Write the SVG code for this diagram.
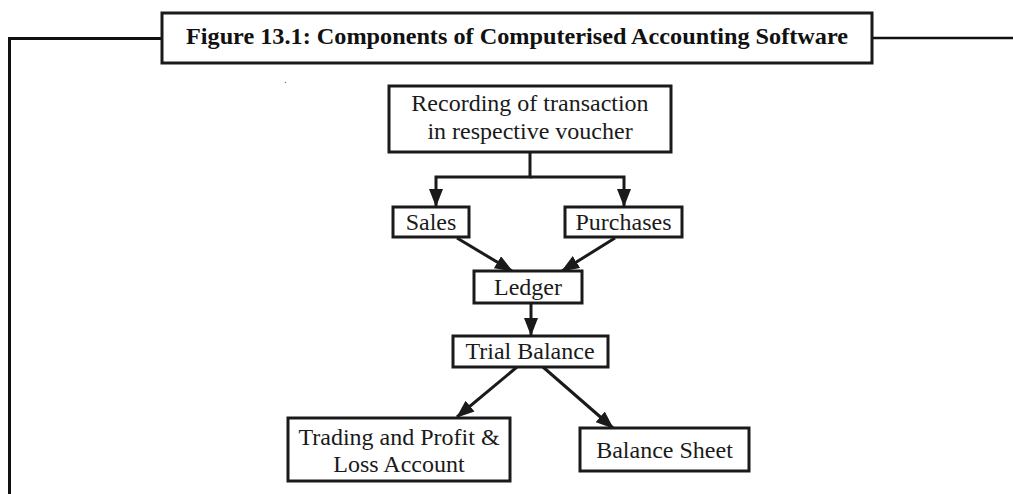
<svg xmlns="http://www.w3.org/2000/svg" width="1013" height="494" viewBox="0 0 1013 494">
<style>
.box{fill:#fff;stroke:#1a1a1a;stroke-width:3}
.t{font-family:"Liberation Serif","DejaVu Serif",serif;font-size:24px;fill:#1a1a1a;text-anchor:middle}
.title{font-family:"Liberation Serif","DejaVu Serif",serif;font-size:23px;font-weight:bold;fill:#111;text-anchor:middle}
.c{fill:none;stroke:#1a1a1a;stroke-width:3}
</style>
<defs>
<marker id="ah" markerUnits="userSpaceOnUse" markerWidth="18" markerHeight="14" refX="17" refY="7" orient="auto">
<path d="M0,0 L18,7 L0,14 Z" fill="#1a1a1a"/>
</marker>
</defs>
<rect width="1013" height="494" fill="#fff"/>
<g id="frame">
<path d="M9.5,494 V38.5 H162" fill="none" stroke="#111" stroke-width="3"/>
<path d="M872,38 H1013" fill="none" stroke="#111" stroke-width="2.5"/>
</g>
<g id="title">
<rect x="162" y="13" width="710" height="50" class="box"/>
<text x="517" y="44" class="title" textLength="662" lengthAdjust="spacingAndGlyphs">Figure 13.1: Components of Computerised Accounting Software</text>
</g>
<circle cx="285.5" cy="82.5" r="0.7" fill="#777"/>
<g id="connectors">
<path class="c" d="M530,152 V177 H436 V206" marker-end="url(#ah)"/>
<path class="c" d="M530,177 H624 V206" marker-end="url(#ah)"/>
<path class="c" d="M457,238 L512,271" marker-end="url(#ah)"/>
<path class="c" d="M615,238 L562,271" marker-end="url(#ah)"/>
<path class="c" d="M531,303 V335" marker-end="url(#ah)"/>
<path class="c" d="M517,367 L457,417" marker-end="url(#ah)"/>
<path class="c" d="M543,367 L613,428" marker-end="url(#ah)"/>
</g>
<g id="recording">
<rect x="389" y="86" width="282" height="66" class="box"/>
<text x="530" y="111" class="t">Recording of transaction</text>
<text x="530" y="139" class="t">in respective voucher</text>
</g>
<g id="sales">
<rect x="393" y="207" width="76" height="30" class="box"/>
<text x="431" y="230" class="t">Sales</text>
</g>
<g id="purchases">
<rect x="565" y="207" width="117" height="30" class="box"/>
<text x="623.5" y="230" class="t">Purchases</text>
</g>
<g id="ledger">
<rect x="474" y="271" width="108" height="32" class="box"/>
<text x="528" y="295" class="t">Ledger</text>
</g>
<g id="trial">
<rect x="453" y="336" width="155" height="31" class="box"/>
<text x="530" y="359" class="t">Trial Balance</text>
</g>
<g id="tpl">
<rect x="288" y="418" width="222" height="63" class="box"/>
<text x="399" y="445" class="t">Trading and Profit &amp;</text>
<text x="399" y="472" class="t">Loss Account</text>
</g>
<g id="bs">
<rect x="580" y="428" width="169" height="43" class="box"/>
<text x="664.5" y="458" class="t">Balance Sheet</text>
</g>
</svg>
